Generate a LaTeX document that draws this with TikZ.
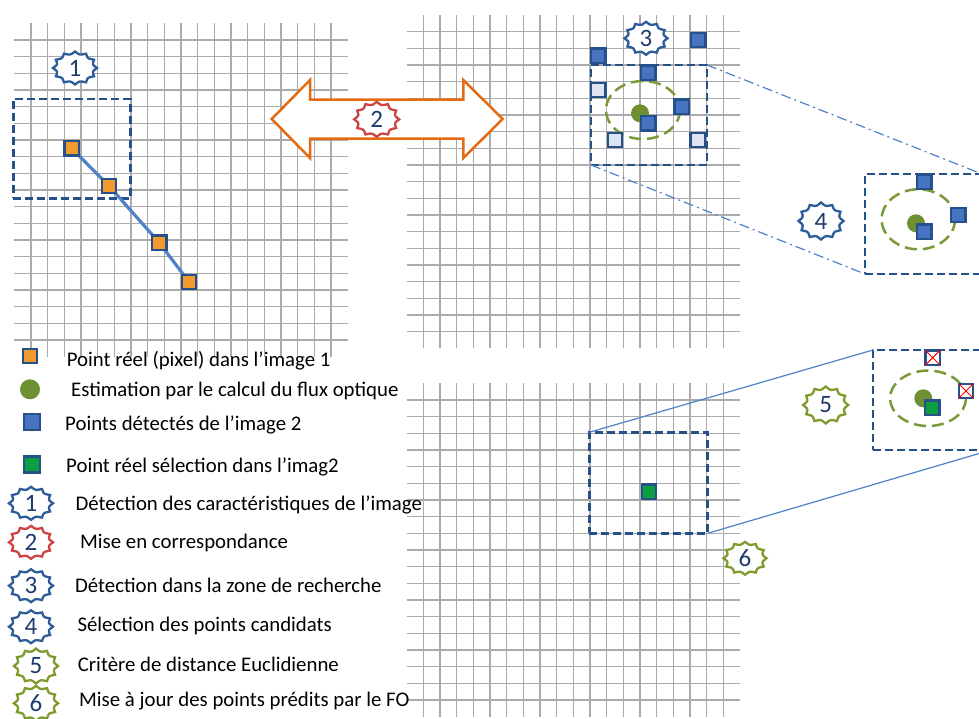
\documentclass[tikz,border=0pt]{standalone}
\usepackage{fontspec}
\setmainfont{Carlito}
\usetikzlibrary{backgrounds}
\definecolor{navy}{HTML}{26508A}
\definecolor{badgeblue}{HTML}{2E5C99}
\definecolor{badgegreen}{HTML}{7E9B2E}
\definecolor{badgered}{HTML}{CC4444}
\definecolor{orangefill}{HTML}{F29A2E}
\definecolor{bluefill}{HTML}{4674C1}
\definecolor{lightfill}{HTML}{DCE4F2}
\definecolor{greenfill}{HTML}{08A040}
\definecolor{dotgreen}{HTML}{6E8F32}
\definecolor{ellgreen}{HTML}{7A9A3A}
\definecolor{arroworange}{HTML}{E56A12}
\definecolor{lineblue}{HTML}{4F82C8}
\definecolor{digitblue}{HTML}{1F3A6E}
\definecolor{gridgray}{HTML}{ABABAB}
\newcommand\mygrid[2]{%
  \foreach \k in {1,...,19} {
    \draw[gridline] ({#1+\k*50/3},{#2}) -- ({#1+\k*50/3},{#2+1000/3});
    \draw[gridline] ({#1},{#2+\k*50/3}) -- ({#1+1000/3},{#2+\k*50/3});
  }}
\newcommand\seal[7]{%
  \draw[draw=#4, line width=2.3pt, fill=white, line join=miter]
    plot[domain=0:360, samples=145, variable=\t]
    ({#2+#6*(1-0.15*abs(sin(6*\t)))*cos(\t)}, {#3+#7*(1-0.15*abs(sin(6*\t)))*sin(\t)}) -- cycle;
  \node[digit] (#1) at (#2,#3) {#5};}
\begin{document}
\begin{tikzpicture}[x=1pt,y=-1pt,
  gridline/.style={draw=gridgray, line width=1.2pt},
  sq/.style={rectangle, draw=navy, line width=2.4pt, minimum size=14.5pt, inner sep=0pt, outer sep=0pt},
  osq/.style={sq, fill=orangefill},
  bsq/.style={sq, fill=bluefill},
  lsq/.style={sq, fill=lightfill},
  gsq/.style={sq, fill=greenfill},
  xsq/.style={sq, fill=white},
  gdot/.style={circle, fill=dotgreen, minimum size=18pt, inner sep=0pt},
  zone/.style={rectangle, draw=navy, line width=2.5pt, dash pattern=on 8pt off 4pt, inner sep=0pt, outer sep=0pt},
  ell/.style={draw=ellgreen, line width=2.5pt, dash pattern=on 12pt off 6pt},
  dd/.style={draw=lineblue, line width=1.2pt, dash pattern=on 10pt off 4pt on 2pt off 4pt},
  zl/.style={draw=lineblue, line width=1.2pt},
  conn/.style={draw=lineblue, line width=3.2pt},
  digit/.style={text=digitblue, inner sep=0pt, font=\fontsize{25}{28}\selectfont},
  leg/.style={anchor=base west, inner sep=0pt, font=\fontsize{20.8}{24}\selectfont}]
\useasboundingbox[fill=white] (0,0) rectangle (979,718);

% grids
\mygrid{14.33}{23.33}
\mygrid{406.67}{15}
\mygrid{406.67}{383.33}

% ---- image 1
\node[zone, minimum width=117.4pt, minimum height=99.3pt] (z1) at (72,148.7) {};
\node[osq] (o1) at (71.7,148.3) {};
\node[osq] (o2) at (109,186) {};
\node[osq] (o3) at (159.3,242.7) {};
\node[osq] (o4) at (189,282) {};
\draw[conn] (o1.center) -- (o2.center) -- (o3.center) -- (o4.center);
\node[osq] at (o1) {};
\node[osq] at (o2) {};
\node[osq] at (o3) {};
\node[osq] at (o4) {};
\seal{b1}{75}{68}{badgeblue}{1}{22}{16.5}

% ---- double arrow
\draw[draw=arroworange, line width=2.5pt, fill=white, line join=miter]
  (271.7,119) -- (310,80) -- (310,99.5) -- (463.3,99.5) -- (463.3,80) -- (502.7,119)
  -- (463.3,158) -- (463.3,138.5) -- (310,138.5) -- (310,158) -- cycle;
\seal{b2}{376.7}{119.3}{badgered}{2}{22.5}{17.5}

% ---- image 2 search zone
\node[zone, minimum width=116pt, minimum height=100pt] (z2) at (649,115) {};
\node[zone, minimum width=117pt, minimum height=100pt] (z4) at (923.5,224) {};
\draw[dd] (z2.north east) -- (z4.north east);
\draw[dd] (z2.south west) -- (z4.south west);
\draw[ell] (643,110) ellipse [x radius=37, y radius=29];
\node[gdot] (d2) at (640,113.3) {};
\node[bsq] (p1) at (598.3,55.7) {};
\node[bsq] (p2) at (698.3,40) {};
\node[bsq] (p3) at (648.3,72.7) {};
\node[bsq] (p4) at (681.7,106.7) {};
\node[bsq] (p5) at (648.3,123.3) {};
\node[lsq] (q1) at (598.3,90) {};
\node[lsq] (q2) at (615,140) {};
\node[lsq] (q3) at (697.7,140) {};
\seal{b3}{646}{38.3}{badgeblue}{3}{21.5}{16.5}

% zoom 4
\draw[ell] (918.3,219.3) ellipse [x radius=36.7, y radius=30];
\node[gdot] (d4) at (916,223.3) {};
\node[bsq] (r1) at (924.3,181.7) {};
\node[bsq] (r2) at (958.3,215) {};
\node[bsq] (r3) at (924.3,231.7) {};
\seal{b4}{821}{221}{badgeblue}{4}{22.5}{18.5}

% ---- image 2 selection
\node[zone, minimum width=118.4pt, minimum height=101pt] (z3) at (648.5,482.8) {};
\node[zone, minimum width=118pt, minimum height=100pt] (z5) at (932,400) {};
\draw[zl] (z3.north west) -- (z5.north west);
\draw[zl] (z3.south east) -- (z5.south east);
\node[gsq] (g3) at (649,491.7) {};
\draw[ell] (928,398.3) ellipse [x radius=38, y radius=27.7];
\node[gdot] (d5) at (923.3,398.3) {};
\node[gsq] (g5) at (932.3,407.7) {};
\node[xsq] (x1) at (932.7,357.7) {};
\node[xsq] (x2) at (966,391) {};
\draw[red, line width=1pt] (x1.north west) -- (x1.south east) (x1.north east) -- (x1.south west);
\draw[red, line width=1pt] (x2.north west) -- (x2.south east) (x2.north east) -- (x2.south west);
\seal{b5}{825.7}{405}{badgegreen}{5}{22.5}{18.5}
\seal{b6}{745}{558.3}{badgegreen}{6}{21.5}{16.5}

% ---- legend
\node[osq] (lo) at (30,356) {};
\node[leg] (t1) at (66.7,366) {Point réel (pixel) dans l’image 1};
\node[gdot, minimum size=20pt] (ld) at (30,389.3) {};
\node[leg] (t2) at (71,396) {Estimation par le calcul du flux optique};
\node[bsq, minimum size=16pt] (lb) at (31.7,421.7) {};
\node[leg] (t3) at (65,430) {Points détectés de l’image 2};
\node[gsq, minimum size=16pt] (lg) at (31.7,464.3) {};
\node[leg] (t4) at (66,472.7) {Point réel sélection dans l’imag2};
\seal{l1}{31}{503.3}{badgeblue}{1}{22}{16.5}
\node[leg] (t5) at (75.3,510) {Détection des caractéristiques de l’image};
\seal{l2}{31}{542.3}{badgered}{2}{22}{16.5}
\node[leg] (t6) at (80,548.3) {Mise en correspondance};
\seal{l3}{31}{585.7}{badgeblue}{3}{22}{16.5}
\node[leg] (t7) at (75,592.7) {Détection dans la zone de recherche};
\seal{l4}{31}{626.7}{badgeblue}{4}{22}{16.5}
\node[leg] (t8) at (77.3,631) {Sélection des points candidats};
\seal{l5}{36}{666}{badgegreen}{5}{22}{17.5}
\node[leg] (t9) at (77.7,671.7) {Critère de distance Euclidienne};
\seal{l6}{36}{703.3}{badgegreen}{6}{22}{17.5}
\node[leg] (t10) at (79,706.7) {Mise à jour des points prédits par le FO};
\end{tikzpicture}
\end{document}
